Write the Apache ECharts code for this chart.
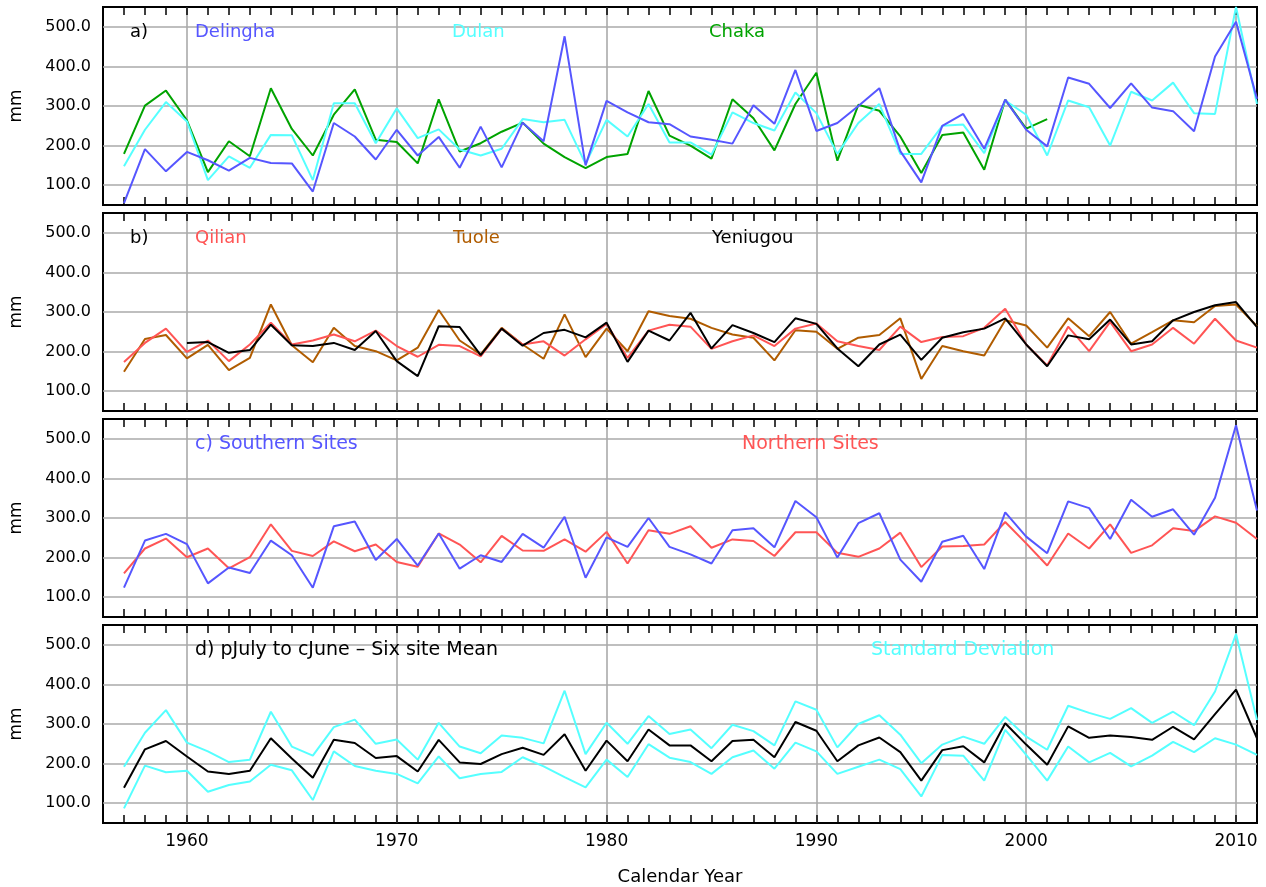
<!DOCTYPE html>
<html>
<head>
<meta charset="utf-8">
<script src="https://cdn.jsdelivr.net/npm/echarts@6/dist/echarts.min.js"></script>
<style>
html,body{margin:0;padding:0;background:#fff;}
#chart{width:1266px;height:887px;}
</style>
</head>
<body>
<div id="chart"></div>
<script>
// Years 1957..2011
const years = [];
for (let y = 1957; y <= 2011; y++) years.push(y);

const xTickLabels = [1960, 1970, 1980, 1990, 2000, 2010];
const yTickLabels = [100, 200, 300, 400, 500];

// Panel a
const delingha = [55,191,135,184,163,137,169,156,155,84,
  257,223,165,240,175,222,144,248,145,258,
  211,476,150,313,284,259,254,223,215,205,
  302,255,391,237,257,300,345,186,107,250,
  280,192,316,240,198,372,356,295,357,296,
  287,236,425,513,318];
const dulan = [148,240,310,261,113,173,144,227,226,113,
  307,307,206,294,219,241,190,175,192,267,
  259,265,154,265,223,305,208,208,177,284,
  257,238,334,282,179,257,305,179,179,250,
  253,181,314,278,175,314,297,200,336,314,
  359,282,280,550,305];
const chaka = [179,301,339,264,133,211,173,345,242,175,
  278,342,215,209,155,317,185,206,235,258,
  205,171,143,171,179,338,225,200,167,317,
  269,188,305,384,162,303,288,223,131,227,
  233,139,316,243,267,null,null,null,null,null,
  null,null,null,null,null];

// Panel b
const qilian = [174,222,258,199,228,176,218,273,218,228,
  243,226,253,214,187,217,214,188,258,218,
  226,190,231,270,184,253,268,263,207,226,
  241,214,258,271,226,214,204,263,224,237,
  239,260,308,218,165,263,201,275,201,218,
  260,220,283,228,210];
const tuole = [149,232,242,183,217,153,184,319,216,173,
  260,214,201,178,210,305,228,193,260,218,
  182,294,186,258,201,302,290,283,260,243,
  235,178,254,250,207,235,242,284,131,214,
  201,190,279,266,210,284,239,300,220,249,
  279,274,315,319,264];
const yeniugou = [null,null,null,222,224,197,204,268,216,214,
  222,204,252,176,138,264,262,191,258,215,
  247,255,236,273,174,253,228,298,208,267,
  247,224,284,270,208,163,218,243,179,235,
  249,258,284,218,163,241,231,281,218,226,
  279,300,317,325,262];

// Panel c
const southern = [124,243,260,234,135,175,161,243,206,124,
  279,291,194,247,180,261,172,206,189,260,
  225,303,149,251,227,300,227,208,185,269,
  274,226,343,302,200,287,312,195,139,240,
  255,171,314,253,211,342,325,247,346,303,
  322,258,351,534,319];
const northern = [160,223,248,201,223,173,201,284,217,204,
  241,216,233,189,177,261,233,188,255,218,
  217,246,215,265,185,269,260,279,225,246,
  242,204,264,264,212,202,223,263,176,228,
  229,233,290,236,180,261,223,284,212,231,
  274,267,304,288,247];

// Panel d
const sixSiteMean = [139,236,257,218,180,174,182,264,213,164,
  260,252,214,219,180,260,203,199,224,240,
  222,274,182,258,206,286,246,246,206,257,
  260,216,305,283,206,246,266,229,157,234,
  244,203,302,248,197,294,265,271,267,260,
  293,261,325,387,264];
const sdUpper = [192,278,335,253,231,204,210,331,243,220,
  292,311,250,261,210,303,243,226,271,265,
  251,384,224,303,250,320,275,286,239,298,
  282,246,357,336,241,300,322,273,201,248,
  268,250,318,268,235,346,328,313,340,303,
  331,297,382,527,310];
const sdLower = [87,195,178,182,129,146,155,197,183,108,
  231,194,182,174,150,218,163,174,179,216,
  193,166,140,210,166,249,215,204,174,216,
  233,187,253,231,174,192,210,186,117,222,
  220,157,285,222,157,243,203,227,193,220,
  255,229,264,248,222];

const FONT = 'DejaVu Sans';
const COLORS = {
  blue: '#5656ff', cyan: '#55ffff', green: '#00a300',
  red: '#ff5555', brown: '#b05c00', black: '#000000'
};

const gridTops = [7, 213, 419, 625];
const gridH = 198;

function pairs(arr) { return years.map((y, i) => [y, arr[i]]); }

const grids = gridTops.map(t => ({
  left: 100, right: 9, top: t, height: gridH,
  show: true, borderColor: '#000', borderWidth: 2, backgroundColor: 'transparent'
}));

const vColors = [];
for (let y = 1956; y <= 2011; y++) vColors.push(xTickLabels.includes(y) ? '#aaaaaa' : 'rgba(0,0,0,0)');
const hColors = [];
for (let v = 50; v <= 550; v += 50) hColors.push(yTickLabels.includes(v) ? '#aaaaaa' : 'rgba(0,0,0,0)');

const xAxes = [];
const yAxes = [];
for (let g = 0; g < 4; g++) {
  const isBottom = g === 3;
  xAxes.push({
    gridIndex: g, type: 'value', position: 'bottom', min: 1956, max: 2011, interval: 1,
    axisLine: { show: false },
    axisTick: { show: true, inside: true, length: 8, lineStyle: { color: '#000', width: 1.5 } },
    splitLine: { show: true, lineStyle: { color: vColors, width: 1.6 } },
    axisLabel: {
      show: isBottom, margin: 10, color: '#000', fontFamily: FONT, fontSize: 17,
      formatter: v => xTickLabels.includes(v) ? String(v) : ''
    },
    name: isBottom ? 'Calendar Year' : '',
    nameLocation: 'middle', nameGap: 45,
    nameTextStyle: { color: '#000', fontFamily: FONT, fontSize: 18 }
  });
  xAxes.push({
    gridIndex: g, type: 'value', position: 'top', min: 1956, max: 2011, interval: 1,
    axisLine: { show: false },
    axisTick: { show: true, inside: true, length: 8, lineStyle: { color: '#000', width: 1.5 } },
    splitLine: { show: false },
    axisLabel: { show: false }
  });
  yAxes.push({
    gridIndex: g, type: 'value', min: 50, max: 550, interval: 50,
    axisLine: { show: false }, axisTick: { show: false },
    splitLine: { show: true, lineStyle: { color: hColors, width: 1.6 } },
    axisLabel: {
      color: '#000', fontFamily: FONT, fontSize: 16, margin: 12,
      formatter: v => yTickLabels.includes(v) ? v.toFixed(1) : ''
    },
    name: 'mm', nameLocation: 'middle', nameGap: 78, nameRotate: 90,
    nameTextStyle: { color: '#000', fontFamily: FONT, fontSize: 17 }
  });
}

function line(name, arr, color, g) {
  return {
    name, type: 'line', xAxisIndex: g * 2, yAxisIndex: g,
    data: pairs(arr), showSymbol: false, symbol: 'none',
    lineStyle: { color, width: 2 }, itemStyle: { color },
    connectNulls: false, clip: true, animation: false
  };
}

const series = [
  line('Chaka', chaka, COLORS.green, 0),
  line('Dulan', dulan, COLORS.cyan, 0),
  line('Delingha', delingha, COLORS.blue, 0),
  line('Tuole', tuole, COLORS.brown, 1),
  line('Qilian', qilian, COLORS.red, 1),
  line('Yeniugou', yeniugou, COLORS.black, 1),
  line('Northern Sites', northern, COLORS.red, 2),
  line('Southern Sites', southern, COLORS.blue, 2),
  line('SD upper', sdUpper, COLORS.cyan, 3),
  line('SD lower', sdLower, COLORS.cyan, 3),
  line('Six site Mean', sixSiteMean, COLORS.black, 3)
];

function label(text, x, y, color, size) {
  return { type: 'text', left: x, top: y - 11, z: 100,
    style: { text, fill: color, font: (size || 18) + 'px "' + FONT + '"' } };
}
const offs = gridTops.map(t => t + 27);
const graphics = [
  label('a)', 130, offs[0], '#000'),
  label('Delingha', 195, offs[0], COLORS.blue),
  label('Dulan', 452, offs[0], COLORS.cyan),
  label('Chaka', 709, offs[0], COLORS.green),
  label('b)', 130, offs[1], '#000'),
  label('Qilian', 195, offs[1], COLORS.red),
  label('Tuole', 453, offs[1], COLORS.brown),
  label('Yeniugou', 712, offs[1], '#000'),
  label('c) Southern Sites', 195, offs[2], COLORS.blue, 19),
  label('Northern Sites', 742, offs[2], COLORS.red, 19),
  label('d) pJuly to cJune \u2013 Six site Mean', 195, offs[3], '#000', 19),
  label('Standard Deviation', 871, offs[3], COLORS.cyan, 19)
];

const chart = echarts.init(document.getElementById('chart'), null, { renderer: 'canvas' });
chart.setOption({
  backgroundColor: '#fff',
  animation: false,
  grid: grids,
  xAxis: xAxes,
  yAxis: yAxes,
  series,
  graphic: graphics
});
</script>
</body>
</html>
